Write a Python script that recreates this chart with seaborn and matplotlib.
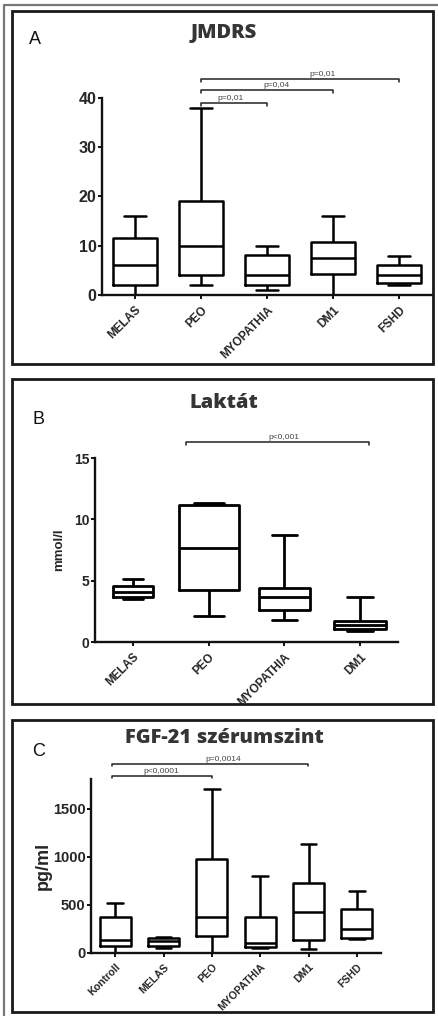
import numpy as np
import pandas as pd
import matplotlib
matplotlib.use('Agg')
import matplotlib.pyplot as plt
from matplotlib.patches import Rectangle
import seaborn as sns

# A - JMDRS (min, Q1, median, Q3, max)
jmdrs_groups = ['MELAS', 'PEO', 'MYOPATHIA', 'DM1', 'FSHD']
jmdrs_low = [0, 2, 1, 0, 2]
jmdrs_q1 = [2, 4, 2, 4.3, 2.5]
jmdrs_med = [6, 10, 4, 7.5, 4]
jmdrs_q3 = [11.5, 19, 8.2, 10.8, 6]
jmdrs_high = [16, 38, 10, 16, 8]
jmdrs_ticks = [0, 10, 20, 30, 40]

# B - Laktát (mmol/l)
lakt_groups = ['MELAS', 'PEO', 'MYOPATHIA', 'DM1']
lakt_low = [3.5, 2.1, 1.8, 0.9]
lakt_q1 = [3.7, 4.2, 2.6, 1.05]
lakt_med = [4.1, 7.7, 3.7, 1.4]
lakt_q3 = [4.6, 11.2, 4.4, 1.75]
lakt_high = [5.1, 11.3, 8.7, 3.7]
lakt_ticks = [0, 5, 10, 15]

# C - FGF-21 (pg/ml)
fgf_groups = ['Kontroll', 'MELAS', 'PEO', 'MYOPATHIA', 'DM1', 'FSHD']
fgf_low = [0, 48, 0, 55, 38, 145]
fgf_q1 = [73, 76, 173, 66, 132, 159]
fgf_med = [132, 121, 374, 104, 426, 253]
fgf_q3 = [378, 156, 977, 378, 727, 457]
fgf_high = [520, 170, 1711, 804, 1133, 648]
fgf_ticks = [0, 500, 1000, 1500]

# significance brackets: (start, end, height, label, label x)
jmdrs_sig = [(1, 2, 39.0, 'p=0,01', 1.45),
             (1, 3, 41.6, 'p=0,04', 2.14),
             (1, 4, 43.8, 'p=0,01', 2.84)]
lakt_sig = [(0.7, 3.12, 16.3, 'p<0,001', 2.0)]
fgf_sig = [(-0.06, 2.0, 1844, 'p<0,0001', 0.96),
           (-0.06, 3.98, 1969, 'p=0,0014', 2.23)]

W, H = 438, 1016
sns.set_style('ticks')
plt.rcParams['font.family'] = ['Liberation Sans', 'DejaVu Sans']
fig = plt.figure(figsize=(W / 100, H / 100), dpi=100)


def px_box(x0, y0, x1, y1):
    return [x0 / W, 1 - y1 / H, (x1 - x0) / W, (y1 - y0) / H]


def draw_panel(ax, groups, low, q1, med, q3, high, widths, lw, ylim, yticks,
               ytick_size, xtick_size, sig, drop):
    rows = []
    for g, a, b, c, d, e in zip(groups, low, q1, med, q3, high):
        for v in (a, b, c, d, e):
            rows.append({'group': g, 'value': v})
    df = pd.DataFrame(rows)
    for g, w in zip(groups, widths):
        sns.boxplot(data=df[df['group'] == g], x='group', y='value',
                    order=groups, width=w, fill=False, color='black',
                    linewidth=lw, whis=(0, 100), showfliers=False, ax=ax)
    ax.set_xlim(-0.5, len(groups) - 0.5)
    ax.set_ylim(*ylim)
    ax.set_yticks(yticks)
    ax.set_xlabel('')
    ax.set_ylabel('')
    sns.despine(ax=ax)
    for s in ['left', 'bottom']:
        ax.spines[s].set_linewidth(1.7)
        ax.spines[s].set_color('#111111')
    ax.tick_params(axis='both', direction='out', length=3, width=1.4,
                   color='#111111')
    ax.tick_params(axis='y', labelsize=ytick_size, pad=1)
    for t in ax.get_yticklabels():
        t.set_fontweight('bold')
    ax.set_xticks(range(len(groups)))
    ax.set_xticklabels(groups, rotation=45, ha='right', rotation_mode='anchor',
                       fontsize=xtick_size, fontweight='bold')
    ax.patch.set_alpha(0)
    for x0, x1, y, label, lx in sig:
        ax.plot([x0, x0, x1, x1], [y - drop, y, y, y - drop], color='#222222',
                lw=1.1, clip_on=False)
        ax.text(lx, y + drop * 0.4, label, ha='center', va='bottom',
                fontsize=6, color='#444444', clip_on=False)


# panel A
axA = fig.add_axes(px_box(102, 98, 432, 295))
draw_panel(axA, jmdrs_groups, jmdrs_low, jmdrs_q1, jmdrs_med, jmdrs_q3,
           jmdrs_high, [0.67] * 5, 1.8, (0, 40), jmdrs_ticks, 11.5, 8.5,
           jmdrs_sig, 0.6)

# panel B
axB = fig.add_axes(px_box(95, 458, 398, 642))
draw_panel(axB, lakt_groups, lakt_low, lakt_q1, lakt_med, lakt_q3, lakt_high,
           [0.53, 0.79, 0.67, 0.68], 2.0, (0, 15), lakt_ticks, 10, 8.5,
           lakt_sig, 0.25)
axB.set_ylabel('mmol/l', fontsize=9.5, fontweight='bold')
axB.yaxis.set_label_coords(-0.1, 0.5)

# panel C
axC = fig.add_axes(px_box(91, 779, 381, 953))
draw_panel(axC, fgf_groups, fgf_low, fgf_q1, fgf_med, fgf_q3, fgf_high,
           [0.64] * 6, 1.8, (0, 1810), fgf_ticks, 10.5, 7.6, fgf_sig, 25)
axC.set_ylabel('pg/ml', fontsize=13, fontweight='bold')
axC.yaxis.set_label_coords(-0.135, 0.5)

# titles and panel letters
title_kw = dict(ha='center', va='center', fontsize=14.5, fontweight='heavy',
                color='#353535', family=['Open Sans', 'DejaVu Sans'])
fig.text(224 / W, 1 - 33 / H, 'JMDRS', **title_kw)
fig.text(224 / W, 1 - 403 / H, 'Laktát', **title_kw)
fig.text(224 / W, 1 - 738 / H, 'FGF-21 szérumszint', **title_kw)
for letter, x, y in [('A', 35, 40), ('B', 38, 420), ('C', 39, 752)]:
    fig.text(x / W, 1 - y / H, letter, ha='center', va='center', fontsize=13,
             color='#111111')

# panel frames
for y0, y1 in [(11, 364), (379, 704), (720, 1012)]:
    fig.add_artist(Rectangle((12 / W, 1 - y1 / H), (433 - 12) / W, (y1 - y0) / H,
                             transform=fig.transFigure, fill=False,
                             edgecolor='#1a1a1a', lw=2.0))
fig.add_artist(plt.Line2D([4 / W, 4 / W, 1], [0, 1 - 5 / H, 1 - 5 / H],
                          transform=fig.transFigure, color='#777777', lw=1.6))

fig.savefig('out.png', dpi=100)
